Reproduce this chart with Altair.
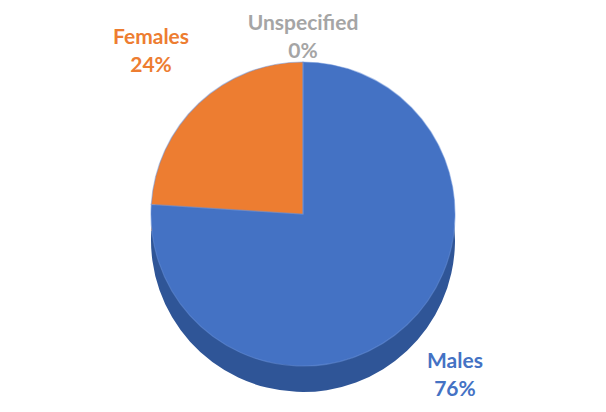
import altair as alt
import pandas as pd

categories = ["Males", "Females", "Unspecified"]
values = [76, 24, 0]
labels = ["Males\n76%", "Females\n24%", "Unspecified\n0%"]
top_colors = ["#4472C4", "#ED7D31", "#A5A5A5"]
side_colors = ["#2F5597", "#B85F1E", "#7F7F7F"]

df = pd.DataFrame({"sex": categories, "value": values, "label": labels,
                   "order": [0, 1, 2]})

CX, CY, R, DEPTH = 290, 196, 152, 26

base = alt.Chart(df)

theta = alt.Theta("value:Q", stack=True)
order = alt.Order("order:Q")

side = base.mark_arc(outerRadius=R).encode(
    theta=theta, order=order,
    color=alt.Color("sex:N", scale=alt.Scale(domain=categories, range=side_colors), legend=None),
    x=alt.value(CX), y=alt.value(CY + DEPTH),
)

top = base.mark_arc(outerRadius=R, stroke="#6A92DA", strokeWidth=1.2, strokeOpacity=0.5).encode(
    theta=theta, order=order,
    fill=alt.Fill("sex:N", scale=alt.Scale(domain=categories, range=top_colors), legend=None),
    x=alt.value(CX), y=alt.value(CY),
)

def text_layer(radius, filt):
    return base.transform_filter(filt).mark_text(
        font="Lato", fontWeight="bold", fontSize=21, lineBreak="\n",
        lineHeight=28, radius=radius, dy=-14).encode(
        theta=theta, order=order,
        text="label:N",
        fill=alt.Fill("sex:N", scale=alt.Scale(domain=categories, range=top_colors), legend=None),
        x=alt.value(CX), y=alt.value(CY),
    )

text_top = text_layer(176, "datum.sex == 'Unspecified'")
text_other = text_layer(222, "datum.sex != 'Unspecified'")

chart = alt.layer(side, top, text_top, text_other).resolve_scale(
    color="independent", fill="independent", theta="shared"
).properties(
    width=590, height=396,
    autosize=alt.AutoSizeParams(type="fit", contains="padding"),
).configure_view(stroke=None)

chart.save("out.html", embed_options={"renderer": "svg", "actions": False})
